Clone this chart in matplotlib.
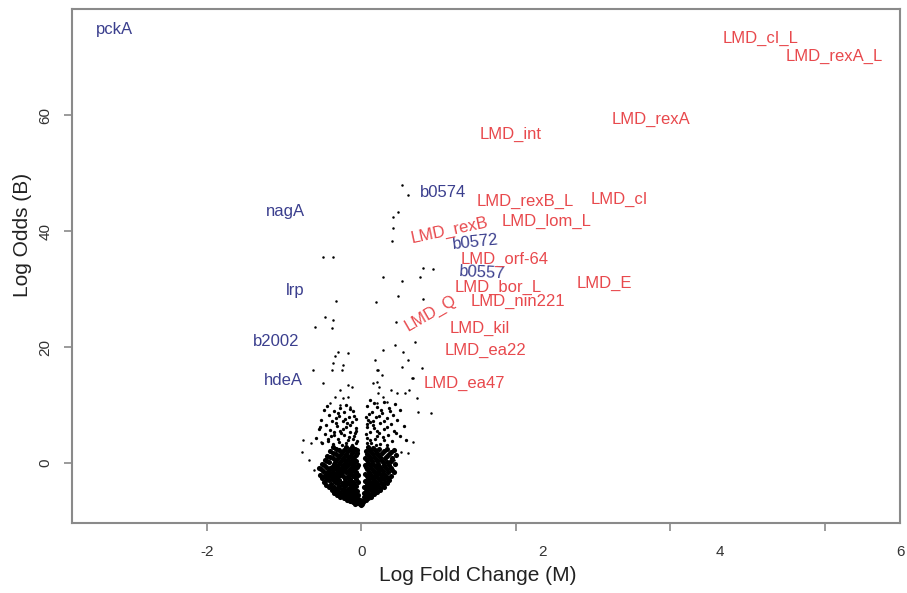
import matplotlib.pyplot as plt
from matplotlib import transforms

plt.rcParams['font.family'] = ['Liberation Sans', 'DejaVu Sans']

# gene points (log fold change M, log odds B)
core_left = [
    (-0.02, -7.1), (-0.05, -6.9), (-0.08, -7.0), (-0.11, -6.8), (-0.03, -6.6), (-0.14, -6.6),
    (-0.07, -6.5), (-0.18, -6.4), (-0.10, -6.3), (-0.04, -6.2), (-0.22, -6.1), (-0.15, -6.0),
    (-0.27, -5.9), (-0.08, -5.9), (-0.19, -5.7), (-0.12, -5.6), (-0.04, -5.5), (-0.31, -5.5),
    (-0.24, -5.4), (-0.16, -5.3), (-0.35, -5.1), (-0.09, -5.1), (-0.28, -5.0), (-0.20, -4.9),
    (-0.13, -4.8), (-0.05, -4.8), (-0.38, -4.7), (-0.32, -4.5), (-0.24, -4.5), (-0.17, -4.4),
    (-0.10, -4.3), (-0.42, -4.2), (-0.35, -4.1), (-0.28, -4.0), (-0.21, -4.0), (-0.06, -3.9),
    (-0.14, -3.8), (-0.45, -3.7), (-0.39, -3.6), (-0.31, -3.5), (-0.25, -3.4), (-0.18, -3.4),
    (-0.10, -3.3), (-0.48, -3.2), (-0.04, -3.2), (-0.42, -3.0), (-0.35, -3.0), (-0.28, -2.9),
    (-0.21, -2.8), (-0.14, -2.8), (-0.07, -2.7), (-0.50, -2.6), (-0.44, -2.5), (-0.38, -2.4),
    (-0.31, -2.4), (-0.24, -2.3), (-0.17, -2.2), (-0.11, -2.2), (-0.04, -2.1), (-0.53, -2.0),
    (-0.46, -1.9), (-0.40, -1.8), (-0.33, -1.8), (-0.26, -1.7), (-0.19, -1.6), (-0.13, -1.6),
    (-0.06, -1.5), (-0.49, -1.3), (-0.42, -1.2), (-0.36, -1.2), (-0.29, -1.1), (-0.22, -1.0),
    (-0.15, -1.0), (-0.08, -0.9), (-0.55, -0.8), (-0.45, -0.6), (-0.38, -0.6), (-0.31, -0.5),
    (-0.24, -0.4), (-0.17, -0.4), (-0.10, -0.3), (-0.04, -0.3), (-0.51, -0.1), (-0.41, 0.1),
    (-0.34, 0.1), (-0.27, 0.2), (-0.20, 0.3), (-0.13, 0.3), (-0.06, 0.4), (-0.47, 0.6),
    (-0.37, 0.8), (-0.30, 0.8), (-0.23, 0.9), (-0.16, 1.0), (-0.09, 1.0), (-0.44, 1.3),
    (-0.33, 1.5), (-0.26, 1.5), (-0.19, 1.6), (-0.12, 1.7), (-0.05, 1.7), (-0.40, 2.0),
    (-0.29, 2.2), (-0.22, 2.3), (-0.15, 2.4), (-0.08, 2.5), (-0.36, 2.7),
    (-0.06, -6.8), (-0.12, -6.5), (-0.16, -6.2), (-0.06, -6.0), (-0.20, -5.9), (-0.13, -5.8),
    (-0.24, -5.6), (-0.07, -5.3), (-0.19, -5.2), (-0.27, -5.2), (-0.11, -5.0), (-0.33, -4.9),
    (-0.23, -4.7), (-0.16, -4.6), (-0.08, -4.6), (-0.37, -4.4), (-0.29, -4.3), (-0.13, -4.1),
    (-0.40, -3.9), (-0.24, -3.8), (-0.09, -3.6), (-0.34, -3.3), (-0.21, -3.2), (-0.14, -3.1),
    (-0.45, -2.9), (-0.38, -2.8), (-0.31, -2.7), (-0.17, -2.5), (-0.08, -2.4), (-0.48, -2.3),
    (-0.41, -2.1), (-0.34, -2.1), (-0.27, -2.0), (-0.15, -1.9), (-0.08, -1.8), (-0.44, -1.5),
    (-0.37, -1.5), (-0.30, -1.4), (-0.23, -1.3), (-0.17, -1.3), (-0.10, -1.2), (-0.52, -1.0),
    (-0.40, -0.9), (-0.33, -0.8), (-0.26, -0.8), (-0.19, -0.7), (-0.12, -0.6), (-0.05, -0.6),
    (-0.48, -0.4), (-0.35, -0.2), (-0.28, -0.1), (-0.21, 0.0), (-0.14, 0.0), (-0.08, 0.1),
    (-0.44, 0.3), (-0.32, 0.5), (-0.25, 0.5), (-0.18, 0.6), (-0.11, 0.7), (-0.40, 1.0),
    (-0.28, 1.2), (-0.21, 1.3), (-0.14, 1.3), (-0.07, 1.4), (-0.36, 1.8), (-0.25, 1.9),
    (-0.17, 2.0), (-0.10, 2.1), (-0.33, 2.4), (-0.19, 2.7), (-0.12, 2.8), (-0.05, 2.2),
    (0.00, -7.2), (0.01, -7.0), (-0.01, -6.9), (0.02, -6.8), (0.00, -6.6), (-0.01, -6.3),
]

core_right = [
    (0.03, -6.6), (0.06, -6.4), (0.09, -6.1), (0.04, -5.9), (0.13, -5.8), (0.07, -5.6),
    (0.17, -5.4), (0.10, -5.3), (0.04, -5.1), (0.21, -5.0), (0.14, -4.9), (0.07, -4.7),
    (0.25, -4.6), (0.18, -4.4), (0.11, -4.3), (0.04, -4.2), (0.29, -4.1), (0.22, -3.9),
    (0.15, -3.8), (0.08, -3.7), (0.33, -3.5), (0.26, -3.4), (0.19, -3.3), (0.12, -3.2),
    (0.05, -3.1), (0.36, -2.9), (0.29, -2.8), (0.23, -2.7), (0.16, -2.6), (0.09, -2.5),
    (0.39, -2.3), (0.32, -2.2), (0.26, -2.1), (0.19, -2.0), (0.12, -1.9), (0.05, -1.8),
    (0.42, -1.6), (0.35, -1.5), (0.28, -1.4), (0.22, -1.3), (0.15, -1.2), (0.08, -1.1),
    (0.38, -0.8), (0.31, -0.7), (0.25, -0.6), (0.18, -0.5), (0.11, -0.4), (0.05, -0.3),
    (0.44, -0.1), (0.34, 0.1), (0.28, 0.2), (0.21, 0.3), (0.14, 0.4), (0.07, 0.5),
    (0.40, 0.8), (0.31, 0.9), (0.24, 1.0), (0.17, 1.1), (0.10, 1.2), (0.45, 1.4),
    (0.36, 1.6), (0.27, 1.7), (0.20, 1.8), (0.13, 1.9), (0.06, 2.0), (0.42, 2.3),
    (0.33, 2.4), (0.23, 2.5), (0.16, 2.6), (0.09, 2.7),
    (0.05, -6.2), (0.11, -5.6), (0.15, -5.2), (0.08, -5.0), (0.19, -4.7), (0.13, -4.5),
    (0.06, -4.4), (0.24, -4.3), (0.17, -4.1), (0.10, -4.0), (0.28, -3.7), (0.21, -3.6),
    (0.14, -3.5), (0.07, -3.4), (0.31, -3.2), (0.24, -3.0), (0.17, -2.9), (0.10, -2.8),
    (0.35, -2.6), (0.27, -2.5), (0.21, -2.4), (0.14, -2.3), (0.07, -2.2), (0.30, -1.9),
    (0.23, -1.7), (0.17, -1.6), (0.10, -1.5), (0.40, -1.2), (0.33, -1.1), (0.26, -1.0),
    (0.20, -0.9), (0.13, -0.8), (0.06, -0.7), (0.36, -0.4), (0.29, -0.3), (0.22, -0.2),
    (0.16, -0.1), (0.09, 0.0), (0.39, 0.4), (0.26, 0.6), (0.19, 0.7), (0.12, 0.8),
    (0.05, 0.9), (0.33, 1.2), (0.22, 1.4), (0.15, 1.5), (0.08, 1.6), (0.38, 1.9),
    (0.30, 2.1), (0.18, 2.2), (0.11, 2.3),
]

mid_left = [
    (-0.48, 9.2), (-0.35, 9.0), (-0.22, 8.8), (-0.10, 8.9), (-0.41, 8.3), (-0.29, 8.1),
    (-0.16, 8.0), (-0.07, 7.6), (-0.52, 7.4), (-0.38, 7.3), (-0.24, 7.2), (-0.12, 7.0),
    (-0.45, 6.6), (-0.31, 6.4), (-0.19, 6.3), (-0.06, 6.1), (-0.55, 5.8), (-0.40, 5.7),
    (-0.27, 5.6), (-0.14, 5.4), (-0.47, 5.0), (-0.35, 4.9), (-0.22, 4.8), (-0.09, 4.6),
    (-0.58, 4.3), (-0.43, 4.2), (-0.30, 4.1), (-0.17, 4.0), (-0.05, 3.8), (-0.50, 3.4),
    (-0.37, 3.3), (-0.25, 3.2), (-0.12, 3.1), (-0.44, 9.8), (-0.20, 10.0), (-0.33, 7.8),
    (-0.18, 6.9), (-0.26, 5.1), (-0.11, 4.2), (-0.39, 4.6), (-0.53, 6.2), (-0.08, 5.2),
    (-0.30, 8.6), (-0.14, 9.4), (-0.27, 9.5), (-0.09, 8.2), (-0.21, 7.6), (-0.33, 6.9),
    (-0.14, 6.6), (-0.23, 5.9), (-0.07, 5.6), (-0.35, 5.4), (-0.16, 4.5), (-0.29, 3.7),
    (-0.20, 3.5), (-0.07, 3.4), (-0.43, 3.8),
]

mid_right = [
    (0.12, 10.8), (0.30, 10.6), (0.44, 10.2), (0.08, 9.9), (0.20, 9.7), (0.36, 9.5),
    (0.50, 9.1), (0.14, 8.8), (0.27, 8.6), (0.41, 8.3), (0.06, 8.0), (0.19, 7.9),
    (0.33, 7.7), (0.47, 7.4), (0.11, 7.1), (0.24, 6.9), (0.38, 6.7), (0.55, 6.4),
    (0.07, 6.2), (0.17, 6.0), (0.30, 5.9), (0.43, 5.6), (0.12, 5.3), (0.23, 5.1),
    (0.35, 4.9), (0.50, 4.6), (0.08, 4.4), (0.18, 4.2), (0.29, 4.0), (0.40, 3.8),
    (0.58, 3.9), (0.13, 3.5), (0.24, 3.3), (0.34, 3.1), (0.26, 9.2), (0.15, 6.6),
    (0.45, 5.2), (0.21, 4.6), (0.09, 7.5), (0.37, 8.9), (0.17, 10.3), (0.10, 8.4),
    (0.23, 8.1), (0.29, 7.3), (0.16, 7.2), (0.07, 6.8), (0.34, 6.2), (0.21, 5.6),
    (0.06, 5.0), (0.28, 4.5), (0.12, 4.0), (0.07, 3.5), (0.19, 3.2),
]

sparse = [
    (0.53, 47.9), (0.61, 46.2), (0.48, 43.3), (0.41, 42.4), (0.41, 40.5), (0.40, 38.3),
    (-0.49, 35.5), (-0.36, 35.5), (0.80, 33.6), (0.93, 33.4), (0.28, 32.1), (0.53, 31.4),
    (0.76, 32.1), (-0.32, 27.9), (0.19, 27.8), (0.48, 28.8), (0.80, 28.3), (-0.47, 25.2),
    (-0.36, 24.7), (-0.38, 23.3), (-0.60, 23.4), (0.45, 24.3), (0.70, 20.9), (0.44, 20.3),
    (0.28, 19.5), (0.54, 19.1), (-0.30, 19.1), (-0.17, 19.0), (-0.34, 18.4), (0.79, 16.4),
    (0.66, 14.7), (-0.62, 16.0), (-0.49, 13.8), (0.21, 16.0), (0.16, 13.8), (-0.36, 17.2),
    (-0.23, 16.9), (-0.38, 16.0), (-0.25, 16.0), (0.18, 17.8), (0.22, 16.0), (0.27, 15.2),
    (0.21, 14.0), (0.53, 16.6), (0.61, 17.8), (0.67, 14.7), (-0.17, 13.4), (-0.12, 13.1),
    (-0.27, 12.6), (-0.34, 11.4), (-0.23, 11.2), (-0.17, 11.4), (-0.40, 10.3), (-0.27, 10.0),
    (-0.14, 9.7), (0.22, 12.1), (0.28, 11.4), (0.21, 10.3), (0.34, 10.5), (0.47, 12.1),
    (0.57, 12.1), (0.72, 11.2), (0.90, 8.6), (0.74, 8.8), (0.67, 3.6), (0.52, 1.9),
    (0.61, 1.7), (0.43, 0.5), (0.39, 12.6), (0.23, 13.1), (0.62, 12.6), (-0.77, 1.9),
    (-0.68, 0.5), (-0.61, -1.2), (-0.65, 3.4), (-0.52, 3.6), (-0.75, 4.0),
]

# labelled genes: name, x, y, rotation
blue_labels = [
    ('pckA', -3.19, 74.7, 0), ('nagA', -0.98, 43.3, 0), ('lrp', -0.85, 29.8, 0),
    ('b2002', -1.10, 21.0, 0), ('hdeA', -1.01, 14.3, 0), ('b0574', 1.06, 46.6, 0),
    ('b0572', 1.48, 38.1, 6), ('b0557', 1.57, 32.8, -3),
]
red_labels = [
    ('LMD_cI_L', 5.17, 73.3, 0), ('LMD_rexA_L', 6.12, 70.2, 0), ('LMD_rexA', 3.75, 59.3, 0),
    ('LMD_int', 1.94, 56.6, 0), ('LMD_rexB_L', 2.12, 45.2, 0), ('LMD_cI', 3.34, 45.5, 0),
    ('LMD_lom_L', 2.40, 41.6, 0), ('LMD_rexB', 1.14, 40.2, 12), ('LMD_orf-64', 1.86, 35.2, 0),
    ('LMD_E', 3.15, 31.0, 0), ('LMD_bor_L', 1.77, 30.3, 0), ('LMD_nin221', 2.03, 27.8, 0),
    ('LMD_Q', 0.90, 25.9, 30), ('LMD_kil', 1.54, 23.3, 0), ('LMD_ea22', 1.61, 19.5, 0),
    ('LMD_ea47', 1.33, 13.8, 0),
]

xticks = [-2, 0, 2, 4, 6]
xtick_label_pos = [-1.99, 0.0, 2.34, 4.64, 6.98]
yticks = [0, 20, 40, 60]

fig = plt.figure(figsize=(9.07, 5.93), dpi=100)
ax = fig.add_axes([0.0794, 0.118, 0.9128, 0.8668])

core = core_left + core_right
ax.plot([p[0] for p in core], [p[1] for p in core], 'o', ms=3.7, mew=0, color='black')
mid = mid_left + mid_right
ax.plot([p[0] for p in mid], [p[1] for p in mid], 'o', ms=2.4, mew=0, color='black')
ax.plot([p[0] for p in sparse], [p[1] for p in sparse], 'o', ms=1.8, mew=0, color='black')

for name, x, y, r in blue_labels:
    ax.text(x, y, name, color='#3b3f8e', fontsize=12, ha='center', va='center', rotation=r)
for name, x, y, r in red_labels:
    ax.text(x, y, name, color='#e8494d', fontsize=12, ha='center', va='center', rotation=r)

ax.set_xlim(-3.74, 6.97)
ax.set_ylim(-10.34, 78.3)

for s in ax.spines.values():
    s.set_color('#8a8a8a')
    s.set_linewidth(1.5)

ax.set_xticks(xticks, labels=[])
ax.set_yticks(yticks)
ax.set_yticklabels([str(v) for v in yticks], rotation=90, va='center', fontsize=11, color='#333333')
ax.tick_params(axis='both', length=6, width=1.2, color='#8a8a8a')
ax.tick_params(axis='y', pad=8)

trans = transforms.blended_transform_factory(ax.transData, ax.transAxes)
for v, pos in zip(xticks, xtick_label_pos):
    ax.text(pos, -0.056, str(v), transform=trans, ha='center', va='center',
            fontsize=11, color='#333333', clip_on=False)

ax.set_xlabel('Log Fold Change (M)', fontsize=15, color='#222222')
ax.xaxis.set_label_coords(0.49, -0.083)
ax.set_ylabel('Log Odds (B)', fontsize=15, color='#222222')
ax.yaxis.set_label_coords(-0.048, 0.56)

fig.savefig('out.png', dpi=100)
